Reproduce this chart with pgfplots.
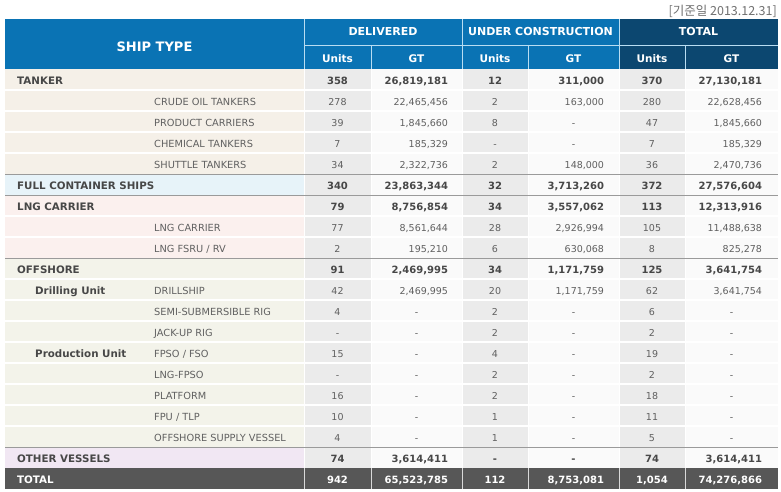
\documentclass[border=0pt]{standalone}
\usepackage{pgfplots}
\pgfplotsset{compat=1.18}
\usepackage{pgfplotstable}
\usepackage{fontspec}
\setmainfont{DejaVu Sans}
\newfontfamily\kr{Noto Sans CJK KR}

\definecolor{hdr}{HTML}{0A73B4}
\definecolor{hdrdark}{HTML}{0C4770}
\definecolor{hdrline}{HTML}{B9DDF2}
\definecolor{tankbg}{HTML}{F5F0E8}
\definecolor{fcsbg}{HTML}{E7F3F9}
\definecolor{lngbg}{HTML}{FBF0EE}
\definecolor{offbg}{HTML}{F3F3EA}
\definecolor{othbg}{HTML}{F1E7F3}
\definecolor{unitbg}{HTML}{EBEBEB}
\definecolor{gtbg}{HTML}{FAFAFA}
\definecolor{grpline}{HTML}{9A9A9A}
\definecolor{totbg}{HTML}{575757}
\definecolor{boldc}{HTML}{474747}
\definecolor{regc}{HTML}{606060}
\definecolor{datec}{HTML}{707070}

% rows: r = row index (0 = TANKER ... 19 = TOTAL)
\pgfplotstableread{
r du dg uu ug tu tg
0 358 26,819,181 12 311,000 370 27,130,181
5 340 23,863,344 32 3,713,260 372 27,576,604
6 79 8,756,854 34 3,557,062 113 12,313,916
9 91 2,469,995 34 1,171,759 125 3,641,754
18 74 3,614,411 - - 74 3,614,411
}\boldrows

\pgfplotstableread{
r du dg uu ug tu tg
1 278 22,465,456 2 163,000 280 22,628,456
2 39 1,845,660 8 - 47 1,845,660
3 7 185,329 - - 7 185,329
4 34 2,322,736 2 148,000 36 2,470,736
7 77 8,561,644 28 2,926,994 105 11,488,638
8 2 195,210 6 630,068 8 825,278
10 42 2,469,995 20 1,171,759 62 3,641,754
11 4 - 2 - 6 -
12 - - 2 - 2 -
13 15 - 4 - 19 -
14 - - 2 - 2 -
15 16 - 2 - 18 -
16 10 - 1 - 11 -
17 4 - 1 - 5 -
}\regrows

\pgfplotstableread{
r du dg uu ug tu tg
19 942 65,523,785 112 8,753,081 1,054 74,276,866
}\totrows

\def\dashstr{-}
\newcommand\gtcell[2]{\edef\tmp{#2}\ifx\tmp\dashstr\makebox[#1][c]{-}\else\makebox[#1][r]{\tmp}\fi}

\newcommand\valcols[2]{%
 \addplot[draw=none, mark=none, point meta=explicit symbolic,
   nodes near coords={\pgfplotspointmeta},
   every node near coord/.append style={anchor=base, inner sep=0pt, #2}]
   table[x expr=337.5, y expr=84.5+21*\thisrow{r}, meta=du]{#1};
 \addplot[draw=none, mark=none, point meta=explicit symbolic,
   nodes near coords={\gtcell{63pt}{\pgfplotspointmeta}},
   every node near coord/.append style={anchor=base, inner sep=0pt, #2}]
   table[x expr=416.5, y expr=84.5+21*\thisrow{r}, meta=dg]{#1};
 \addplot[draw=none, mark=none, point meta=explicit symbolic,
   nodes near coords={\pgfplotspointmeta},
   every node near coord/.append style={anchor=base, inner sep=0pt, #2}]
   table[x expr=495, y expr=84.5+21*\thisrow{r}, meta=uu]{#1};
 \addplot[draw=none, mark=none, point meta=explicit symbolic,
   nodes near coords={\gtcell{61pt}{\pgfplotspointmeta}},
   every node near coord/.append style={anchor=base, inner sep=0pt, #2}]
   table[x expr=573.5, y expr=84.5+21*\thisrow{r}, meta=ug]{#1};
 \addplot[draw=none, mark=none, point meta=explicit symbolic,
   nodes near coords={\pgfplotspointmeta},
   every node near coord/.append style={anchor=base, inner sep=0pt, #2}]
   table[x expr=652, y expr=84.5+21*\thisrow{r}, meta=tu]{#1};
 \addplot[draw=none, mark=none, point meta=explicit symbolic,
   nodes near coords={\gtcell{61pt}{\pgfplotspointmeta}},
   every node near coord/.append style={anchor=base, inner sep=0pt, #2}]
   table[x expr=731.5, y expr=84.5+21*\thisrow{r}, meta=tg]{#1};
}

\newcommand\grp[2]{\node[anchor=base west, inner sep=0pt, text=boldc, font=\bfseries\fontsize{10.3}{12}\selectfont] at (axis cs:17,{84.5+21*#1}) {#2};}
\newcommand\sub[2]{\node[anchor=base west, inner sep=0pt, text=regc, font=\fontsize{9.8}{11}\selectfont] at (axis cs:154,{84.5+21*#1}) {#2};}
\newcommand\midlab[2]{\node[anchor=base west, inner sep=0pt, text=boldc, font=\bfseries\fontsize{10.3}{12}\selectfont] at (axis cs:35,{84.5+21*#1}) {#2};}
\newcommand\hdrsub[2]{\node[anchor=base, inner sep=0pt, text=white, font=\bfseries\fontsize{10.5}{12}\selectfont] at (axis cs:#1,62.5) {#2};}

\begin{document}
\begin{tikzpicture}
\begin{axis}[
  width=781pt, height=492pt, scale only axis,
  xmin=0, xmax=781, ymin=0, ymax=492, y dir=reverse,
  hide axis, clip=false]
\path (axis cs:0,0) rectangle (axis cs:781,492);

% header
\fill[hdr] (axis cs:5,19) rectangle (axis cs:619,69);
\fill[hdrdark] (axis cs:619,19) rectangle (axis cs:778,69);
\draw[hdrline, line width=0.8pt] (axis cs:304,19) -- (axis cs:304,69);
\draw[hdrline, line width=0.8pt] (axis cs:462,19) -- (axis cs:462,69);
\draw[hdrline, line width=0.8pt] (axis cs:619,19) -- (axis cs:619,69);
\draw[hdrline, line width=0.8pt] (axis cs:304,45) -- (axis cs:778,45);
\draw[hdrline, line width=0.8pt] (axis cs:371,45) -- (axis cs:371,69);
\draw[hdrline, line width=0.8pt] (axis cs:528,45) -- (axis cs:528,69);
\draw[hdrline, line width=0.8pt] (axis cs:685,45) -- (axis cs:685,69);

\node[anchor=base, inner sep=0pt, text=white, font=\bfseries\fontsize{13}{15}\selectfont] at (axis cs:154.5,51.5) {SHIP TYPE};
\node[anchor=base, inner sep=0pt, text=white, font=\bfseries\fontsize{11}{13}\selectfont] at (axis cs:383,36) {DELIVERED};
\node[anchor=base, inner sep=0pt, text=white, font=\bfseries\fontsize{11}{13}\selectfont] at (axis cs:540.5,36) {UNDER CONSTRUCTION};
\node[anchor=base, inner sep=0pt, text=white, font=\bfseries\fontsize{11}{13}\selectfont] at (axis cs:698.5,36) {TOTAL};
\hdrsub{337.5}{Units}
\hdrsub{416.5}{GT}
\hdrsub{495}{Units}
\hdrsub{573.5}{GT}
\hdrsub{652}{Units}
\hdrsub{731.5}{GT}

% body backgrounds
\fill[tankbg] (axis cs:5,69) rectangle (axis cs:304,174);
\fill[fcsbg] (axis cs:5,174) rectangle (axis cs:304,195);
\fill[lngbg] (axis cs:5,195) rectangle (axis cs:304,258);
\fill[offbg] (axis cs:5,258) rectangle (axis cs:304,447);
\fill[othbg] (axis cs:5,447) rectangle (axis cs:304,468);
\fill[unitbg] (axis cs:304,69) rectangle (axis cs:371,468);
\fill[gtbg] (axis cs:371,69) rectangle (axis cs:462,468);
\fill[unitbg] (axis cs:462,69) rectangle (axis cs:528,468);
\fill[gtbg] (axis cs:528,69) rectangle (axis cs:619,468);
\fill[unitbg] (axis cs:619,69) rectangle (axis cs:685,468);
\fill[gtbg] (axis cs:685,69) rectangle (axis cs:778,468);
\pgfplotsinvokeforeach{90,111,132,153,216,237,279,300,321,342,363,384,405,426}{
  \draw[white, line width=1.2pt] (axis cs:5,#1) -- (axis cs:778,#1);
}
\pgfplotsinvokeforeach{304,371,462,528,619,685}{
  \draw[white, line width=1pt] (axis cs:#1,69) -- (axis cs:#1,468);
}
\pgfplotsinvokeforeach{174,195,258,447}{
  \draw[grpline, line width=1pt] (axis cs:5,#1) -- (axis cs:778,#1);
}
% total row
\fill[totbg] (axis cs:5,468) rectangle (axis cs:778,489);
\pgfplotsinvokeforeach{304,371,462,528,619,685}{
  \draw[white!85!black, line width=1pt] (axis cs:#1,468) -- (axis cs:#1,489);
}

% labels
\grp{0}{TANKER}
\sub{1}{CRUDE OIL TANKERS}
\sub{2}{PRODUCT CARRIERS}
\sub{3}{CHEMICAL TANKERS}
\sub{4}{SHUTTLE TANKERS}
\grp{5}{FULL CONTAINER SHIPS}
\grp{6}{LNG CARRIER}
\sub{7}{LNG CARRIER}
\sub{8}{LNG FSRU / RV}
\grp{9}{OFFSHORE}
\midlab{10}{Drilling Unit}
\sub{10}{DRILLSHIP}
\sub{11}{SEMI-SUBMERSIBLE RIG}
\sub{12}{JACK-UP RIG}
\midlab{13}{Production Unit}
\sub{13}{FPSO / FSO}
\sub{14}{LNG-FPSO}
\sub{15}{PLATFORM}
\sub{16}{FPU / TLP}
\sub{17}{OFFSHORE SUPPLY VESSEL}
\grp{18}{OTHER VESSELS}
\node[anchor=base west, inner sep=0pt, text=white, font=\bfseries\fontsize{10.3}{12}\selectfont] at (axis cs:17,{84.5+21*19}) {TOTAL};

% values
\valcols{\boldrows}{text=boldc, font=\bfseries\fontsize{10}{12}\selectfont}
\valcols{\regrows}{text=regc, font=\fontsize{9.5}{11}\selectfont}
\valcols{\totrows}{text=white, font=\bfseries\fontsize{10}{12}\selectfont}

% date
\node[anchor=base east, inner sep=0pt, text=datec, font=\kr\fontsize{12.5}{14}\selectfont] at (axis cs:777,16) {[기준일 2013.12.31]};
\end{axis}
\end{tikzpicture}
\end{document}
